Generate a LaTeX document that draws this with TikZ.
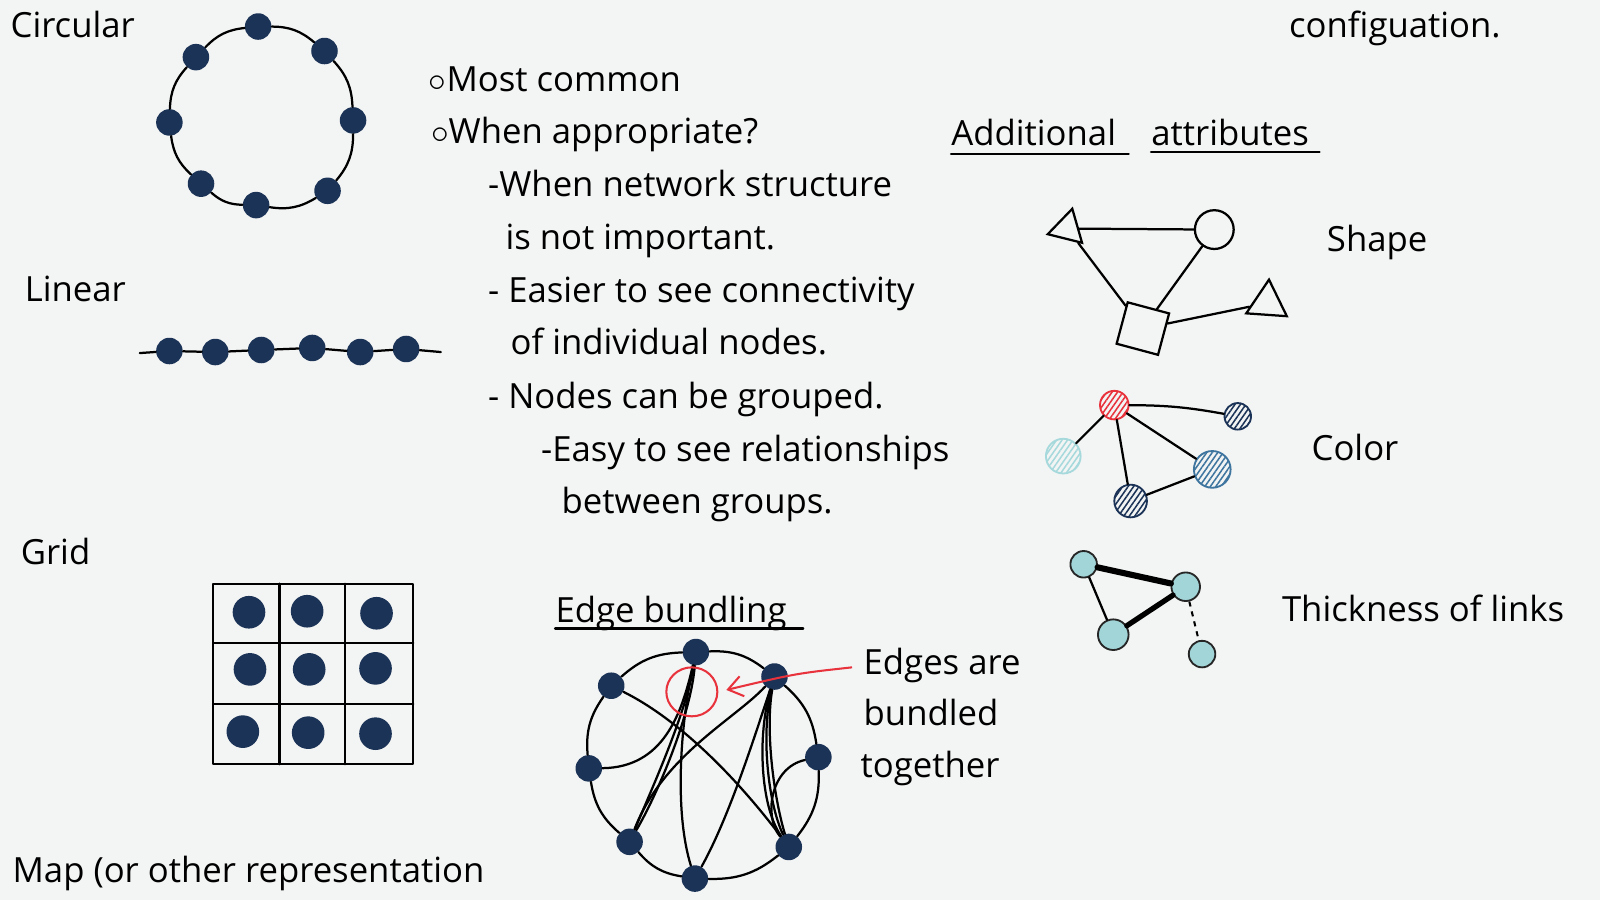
\documentclass[tikz,border=0pt]{standalone}
\usepackage{fontspec}
\setmainfont{Open Sans}
\usetikzlibrary{shapes.geometric,patterns.meta,arrows.meta,positioning}

\definecolor{paper}{HTML}{F3F4F4}
\definecolor{navy}{HTML}{1B3357}
\definecolor{hatchred}{HTML}{E8323C}
\definecolor{paleteal}{HTML}{A6D9DC}
\definecolor{steelblue}{HTML}{3F76A0}
\definecolor{nodeteal}{HTML}{A2D5D8}

\tikzset{
  txt/.style={anchor=base west,inner sep=0pt,font=\fontsize{17}{20}\selectfont},
  wire/.style={line width=1.1pt,line cap=round,line join=round},
  dot/.style={circle,fill=navy,inner sep=0pt,minimum size=13pt},
  bigdot/.style={dot,minimum size=16pt},
  hatch/.style={circle,draw=#1,line width=0.9pt,pattern={Lines[angle=55,distance=2.2pt,line width=0.75pt]},pattern color=#1,inner sep=0pt},
  tealdot/.style={circle,fill=nodeteal,draw=black!85,line width=0.9pt,inner sep=0pt},
  tri/.style={regular polygon,regular polygon sides=3,draw,line width=1.1pt,inner sep=0pt},
}

\begin{document}
\begin{tikzpicture}[x=0.5pt,y=-0.5pt]
\useasboundingbox (0,0) rectangle (1568,882);
\fill[paper] (0,0) rectangle (1568,882);

% titles
\node[txt] (circular) at (10,37) {Circular};
\node[txt] (linear) at (24,295) {Linear};
\node[txt] (grid) at (20,553) {Grid};
\node[txt] (map) at (12,865) {Map (or other representation};
\node[txt] (config) at (1263,37) {configuation.};

% circular layout
\foreach \n/\p in {c1/{253,26},c2/{318,50},c3/{346,118},c4/{321,187},c5/{251,201},c6/{197,180},c7/{166,120},c8/{192,56}}
  \node[dot] (\n) at (\p) {};
\foreach \a/\b in {c1/c2,c2/c3,c3/c4,c4/c5,c5/c6,c6/c7,c7/c8,c8/c1}
  \draw[wire] (\a) to[bend left=20] (\b);

% linear layout
\coordinate (la) at (137,346);
\coordinate (lb) at (432,345);
\foreach \n/\p in {l1/{166,344},l2/{211,345},l3/{256,343},l4/{306,341},l5/{353,345},l6/{398,342}}
  \node[dot] (\n) at (\p) {};
\draw[wire] (la) -- (l1) -- (l2) -- (l3) -- (l4) -- (l5) -- (l6) -- (lb);

% grid layout
\draw[wire] (209,572) rectangle (405,749);
\draw[wire] (274,572) -- (274,749);
\draw[wire] (338,572) -- (338,749);
\draw[wire] (209,630) -- (405,630);
\draw[wire] (209,690) -- (405,690);
\foreach \n/\p in {g1/{244,600},g2/{301,599},g3/{369,601},g4/{245,656},g5/{303,656},g6/{368,655},g7/{238,717},g8/{302,718},g9/{368,719}}
  \node[bigdot] (\n) at (\p) {};

% notes
\node[txt] (most) at (420,90) {$\circ$Most common};
\node[txt] (when) at (422,141) {$\circ$When appropriate?};
\node[txt] (struct) at (478,193) {-When network structure};
\node[txt] (notimp) at (495,245) {is not important.};
\node[txt] (easier) at (478,296) {- Easier to see connectivity};
\node[txt] (indiv) at (500,347) {of individual nodes.};
\node[txt] (grouped) at (478,400) {- Nodes can be grouped.};
\node[txt] (relat) at (530,452) {-Easy to see relationships};
\node[txt] (between) at (550,503) {between groups.};

% edge bundling
\node[txt] (ebtitle) at (544,610) {Edge bundling};
\draw[wire] ([yshift=-3pt]ebtitle.base west) -- ([xshift=8pt,yshift=-3pt]ebtitle.base east);
\foreach \n/\p in {e1/{682,639},e2/{759,663},e3/{802,742},e4/{773,830},e5/{681,861},e6/{617,825},e7/{577,753},e8/{599,672}}
  \node[dot] (\n) at (\p) {};
\foreach \a/\b in {e1/e2,e2/e3,e3/e4,e4/e5,e5/e6,e6/e7,e7/e8,e8/e1}
  \draw[wire] (\a) to[bend left=20] (\b);
\draw[wire] (e8) .. controls (665,705) and (720,760) .. (e4);
\draw[wire] (e1) .. controls (672,700) and (640,770) .. (e6);
\draw[wire] (e1) .. controls (677,700) and (646,775) .. (e6);
\draw[wire] (e7) .. controls (650,752) and (668,700) .. (e1);
\draw[wire] (e1) .. controls (665,720) and (662,800) .. (e5);
\draw[wire] (e2) .. controls (740,720) and (715,800) .. (e5);
\draw[wire] (e2) .. controls (742,720) and (745,790) .. (e4);
\draw[wire] (e2) .. controls (746,718) and (752,785) .. (e4);
\draw[wire] (e2) .. controls (750,715) and (758,780) .. (e4);
\draw[wire] (e2) .. controls (720,705) and (650,740) .. (e6);
\draw[wire] (e3) .. controls (755,752) and (748,800) .. (e4);
\node[ellipse,draw=hatchred,line width=1pt,minimum width=25pt,minimum height=24pt] (bundle) at (678,678) {};
\coordinate (arrtail) at (835,654);
\draw[hatchred,line width=1pt,-{Straight Barb[length=7pt,width=10pt]},shorten >=4pt] (arrtail) .. controls (780,660) .. (bundle.east);
\node[txt] (edgesare) at (846,661) {Edges are};
\node[txt] (bundled) at (846,711) {bundled};
\node[txt] (together) at (843,762) {together};

% additional attributes
\node[txt] (addl) at (932,143) {Additional};
\node[txt] (attr) at (1128,143) {attributes};
\draw[wire] ([yshift=-4pt]addl.base west) -- ([xshift=6pt,yshift=-4pt]addl.base east);
\draw[wire] ([yshift=-3pt]attr.base west) -- ([xshift=5pt,yshift=-3pt]attr.base east);

% shape
\node[tri,rotate=-14,minimum size=20pt] (s1) at (1046,224) {};
\node[circle,draw,line width=1.1pt,inner sep=0pt,minimum size=19pt] (s2) at (1190,225) {};
\node[rectangle,draw,line width=1.1pt,inner sep=0pt,minimum size=21pt,rotate=-15] (s3) at (1120,322) {};
\node[tri,rotate=-4,minimum size=23pt] (s4) at (1242,297) {};
\draw[wire] (s1) -- (s2);
\draw[wire] (s1) -- (s3);
\draw[wire] (s2) -- (s3);
\draw[wire] (s3) -- (s4);
\node[txt] (shape) at (1300,246) {Shape};

% color
\node[hatch=hatchred,minimum size=14pt] (k1) at (1092,397) {};
\node[hatch=navy,minimum size=13pt] (k2) at (1213,408) {};
\node[hatch=paleteal,minimum size=17pt] (k3) at (1042,447) {};
\node[hatch=steelblue,minimum size=18pt] (k4) at (1188,460) {};
\node[hatch=navy,minimum size=16pt] (k5) at (1108,491) {};
\draw[wire] (k1) to[bend left=5] (k2);
\draw[wire] (k1) -- (k3);
\draw[wire] (k1) -- (k5);
\draw[wire] (k1) -- (k4);
\draw[wire] (k5) -- (k4);
\node[txt] (color) at (1285,451) {Color};

% thickness of links
\node[tealdot,minimum size=13pt] (t1) at (1062,553) {};
\node[tealdot,minimum size=14pt] (t2) at (1162,575) {};
\node[tealdot,minimum size=15pt] (t3) at (1091,622) {};
\node[tealdot,minimum size=13pt] (t4) at (1178,641) {};
\draw[line width=3pt,line cap=round] (t1) -- (t2);
\draw[line width=2.6pt,line cap=round] (t2) -- (t3);
\draw[wire] (t1) -- (t3);
\draw[line width=1pt,dash pattern=on 2.5pt off 2.5pt] (t2) -- (t4);
\node[txt] (thick) at (1256,609) {Thickness of links};
\end{tikzpicture}
\end{document}
